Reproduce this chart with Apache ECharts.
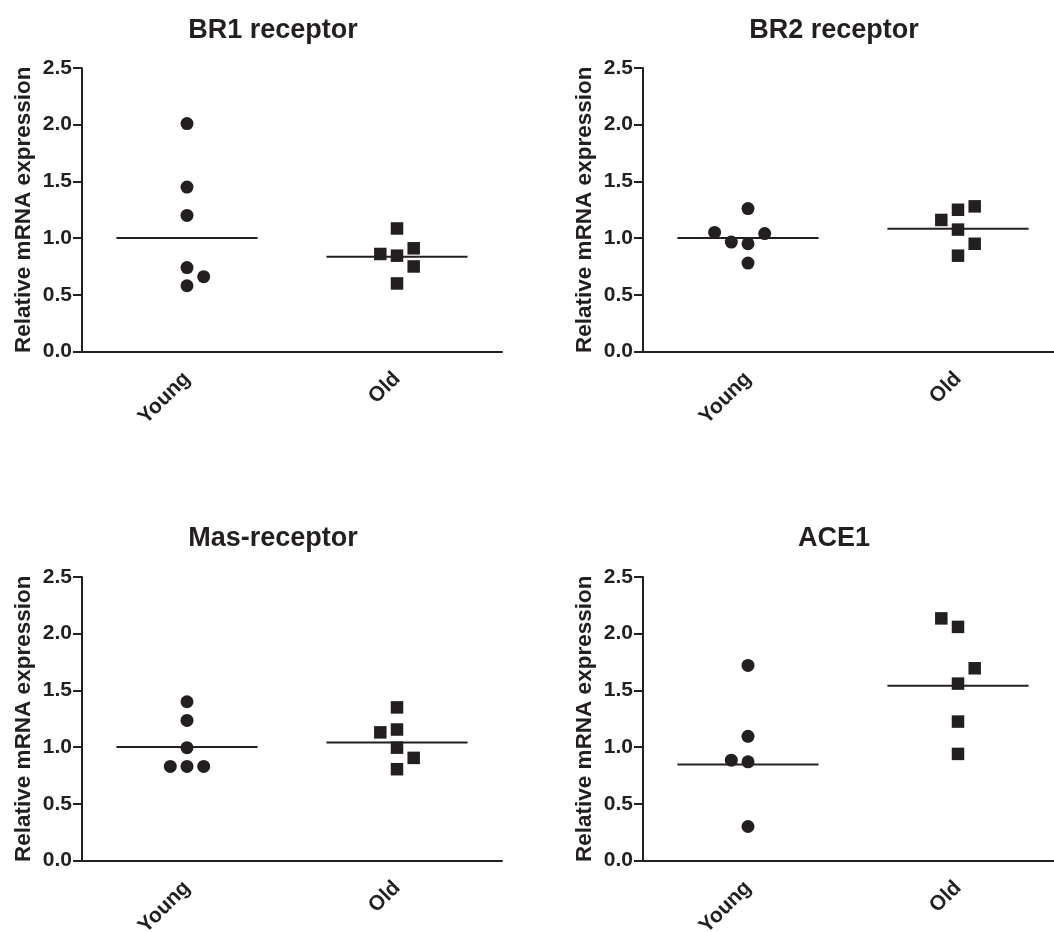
<!DOCTYPE html>
<html><head><meta charset="utf-8">
<script src="https://cdn.jsdelivr.net/npm/echarts@6/dist/echarts.min.js"></script>
<style>html,body{margin:0;padding:0;background:#fff}#c{width:1054px;height:932px}</style>
</head><body><div id="c"></div>
<script>
const categories = ['Young', 'Old'];
const yTicks = [0, 0.5, 1.0, 1.5, 2.0, 2.5];
const panelTitles = ['BR1 receptor', 'BR2 receptor', 'Mas-receptor', 'ACE1'];
const yAxisTitle = 'Relative mRNA expression';

// values
const br1Young = [2.01, 1.45, 1.20, 0.74, 0.66, 0.58];
const br1Old   = [1.085, 0.86, 0.845, 0.91, 0.75, 0.60];
const br2Young = [1.05, 0.965, 1.26, 0.95, 1.04, 0.78];
const br2Old   = [1.16, 1.25, 1.28, 1.075, 0.95, 0.845];
const masYoung = [1.40, 1.235, 0.995, 0.83, 0.83, 0.83];
const masOld   = [1.35, 1.13, 1.155, 0.995, 0.905, 0.805];
const aceYoung = [1.72, 1.095, 0.885, 0.87, 0.30];
const aceOld   = [2.135, 2.06, 1.695, 1.56, 1.225, 0.94];
// group mean lines
const br1Means = [1.00, 0.835];
const br2Means = [1.00, 1.083];
const masMeans = [1.00, 1.04];
const aceMeans = [0.847, 1.54];
// column lane (scatter spread) of each point, -2..+1
const br1YoungLane = [0, 0, 0, 0, 1, 0];
const br1OldLane   = [0, -1, 0, 1, 1, 0];
const br2YoungLane = [-2, -1, 0, 0, 1, 0];
const br2OldLane   = [-1, 0, 1, 0, 1, 0];
const masYoungLane = [0, 0, 0, -1, 0, 1];
const masOldLane   = [0, -1, 0, 0, 1, 0];
const aceYoungLane = [0, 0, -1, 0, 0];
const aceOldLane   = [-1, 0, 1, 0, 0, 0];

const panels = [
  {young: br1Young, old: br1Old, yl: br1YoungLane, ol: br1OldLane, means: br1Means},
  {young: br2Young, old: br2Old, yl: br2YoungLane, ol: br2OldLane, means: br2Means},
  {young: masYoung, old: masOld, yl: masYoungLane, ol: masOldLane, means: masMeans},
  {young: aceYoung, old: aceOld, yl: aceYoungLane, ol: aceOldLane, means: aceMeans}
];

const INK = '#231f20';
const FONT = 'Liberation Sans, Arial, sans-serif';
const LANE = 0.0795;
const HALF = 0.336;

const gridPos = [
  {left: 82, top: 68}, {left: 643, top: 68},
  {left: 82, top: 577}, {left: 643, top: 577}
];
const titlePos = [
  {x: 268, y: 26}, {x: 829, y: 26}, {x: 268, y: 534}, {x: 829, y: 534}
];

const grid = [], xAxis = [], yAxis = [], series = [], title = [];
panels.forEach((p, i) => {
  grid.push({left: gridPos[i].left, top: gridPos[i].top, width: 420, height: 283.5,
    containLabel: false, outerBoundsMode: 'none'});
  title.push({
    text: panelTitles[i], left: titlePos[i].x, top: titlePos[i].y, textAlign: 'center', textVerticalAlign: 'middle',
    textStyle: {fontFamily: FONT, fontWeight: 'bold', fontSize: 27, color: INK}
  });
  xAxis.push({
    type: 'category', gridIndex: i, data: categories, boundaryGap: true,
    axisLine: {onZero: false, lineStyle: {color: INK, width: 2}},
    axisTick: {alignWithLabel: true, length: 7, lineStyle: {color: INK, width: 2}},
    axisLabel: {rotate: 45, margin: 24, fontFamily: FONT, fontWeight: 'bold', fontSize: 21, color: INK},
    splitLine: {show: false}
  });
  xAxis.push({
    type: 'value', gridIndex: i, min: -0.5, max: 1.5, show: false, splitLine: {show: false}
  });
  yAxis.push({
    type: 'value', gridIndex: i, min: yTicks[0], max: yTicks[yTicks.length - 1], interval: 0.5,
    name: yAxisTitle, nameLocation: 'middle', nameGap: 47, nameRotate: 90,
    nameTextStyle: {fontFamily: FONT, fontWeight: 'bold', fontSize: 22.5, color: INK},
    axisLine: {show: true, onZero: false, lineStyle: {color: INK, width: 2}},
    axisTick: {show: true, length: 9, lineStyle: {color: INK, width: 2}},
    axisLabel: {margin: 10, fontFamily: FONT, fontWeight: 'bold', fontSize: 21, color: INK,
      formatter: v => v.toFixed(1)},
    splitLine: {show: false}
  });
  const xi = 2 * i + 1;
  series.push({
    type: 'scatter', xAxisIndex: xi, yAxisIndex: i, symbol: 'circle', symbolSize: 13,
    itemStyle: {color: INK, opacity: 1}, z: 3,
    data: p.young.map((v, k) => [0 + p.yl[k] * LANE, v])
  });
  series.push({
    type: 'scatter', xAxisIndex: xi, yAxisIndex: i, symbol: 'rect', symbolSize: 12.5,
    itemStyle: {color: INK, opacity: 1}, z: 3,
    data: p.old.map((v, k) => [1 + p.ol[k] * LANE, v])
  });
  p.means.forEach((m, c) => {
    series.push({
      type: 'line', xAxisIndex: xi, yAxisIndex: i, symbol: 'none', silent: true,
      lineStyle: {color: INK, width: 2}, z: 2,
      data: [[c - HALF, m], [c + HALF, m]]
    });
  });
});

const chart = echarts.init(document.getElementById('c'), null, {renderer: 'canvas'});
chart.setOption({animation: false, backgroundColor: '#fff', title, grid, xAxis, yAxis, series});
</script>
</body></html>
